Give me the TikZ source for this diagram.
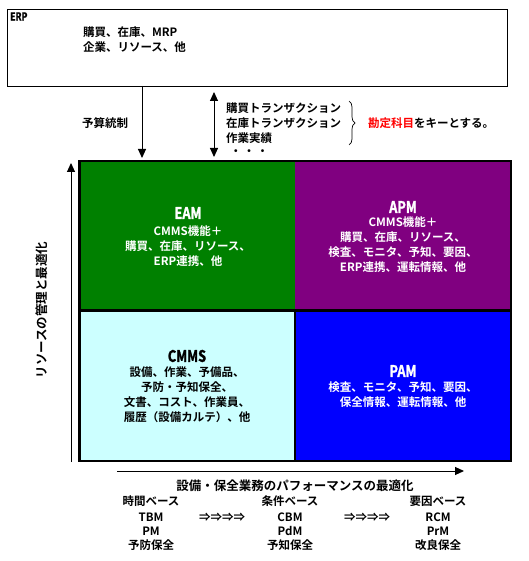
\documentclass[tikz,border=0pt]{standalone}
\usepackage{fontspec}
\setmainfont{Noto Sans CJK JP}[BoldFont={Noto Sans CJK JP Bold}]
\newfontfamily\narrowfont{Noto Sans CJK JP Bold}[FakeStretch=0.8, FakeBold=1.5]
\usetikzlibrary{arrows.meta,decorations.pathreplacing}
\definecolor{eamgreen}{HTML}{008000}
\definecolor{apmpurple}{HTML}{800080}
\definecolor{cmmscyan}{HTML}{CCFFFF}
\definecolor{pamblue}{HTML}{0000FF}
\definecolor{keyred}{HTML}{FF0000}
\tikzset{
  txt/.style={inner sep=0pt, outer sep=0pt, font=\fontsize{11.5}{15}\selectfont\bfseries},
  body/.style={txt, align=center},
  ttl/.style={inner sep=0pt, outer sep=0pt, font=\fontsize{16}{18}\selectfont\narrowfont},
  cell/.style={draw=none, inner sep=0pt, outer sep=0pt, anchor=north west},
  arr/.style={line width=1pt, -{Triangle[length=9pt,width=8pt]}},
  dblarr/.style={line width=1pt, {Triangle[length=9pt,width=8pt]}-{Triangle[length=9pt,width=8pt]}}
}
\begin{document}
\begin{tikzpicture}[x=1pt,y=-1pt]
\useasboundingbox[fill=white] (0,0) rectangle (528,561);

% ERP box
\node[draw, line width=1pt, inner sep=0pt, anchor=north west, minimum width=500pt, minimum height=77pt] (erp) at (7,9) {};
\node[inner sep=0pt, anchor=west, font=\fontsize{11}{12}\selectfont\narrowfont] (erplbl) at (10,16.5) {ERP};
\node[txt, anchor=west, align=left] (erptxt) at (83,40) {購買、在庫、MRP\\企業、リソース、他};

% top connectors
\coordinate (d1s) at (142,86);
\coordinate (d1e) at (142,158);
\draw[arr] (d1s) -- (d1e);
\node[txt] (budget) at (105,123) {予算統制};
\coordinate (d2s) at (214,92);
\coordinate (d2e) at (214,157);
\draw[dblarr] (d2s) -- (d2e);
\node[txt, anchor=west] (t1) at (226,108) {購買トランザクション};
\node[txt, anchor=west] (t2) at (226,123) {在庫トランザクション};
\node[txt, anchor=west] (t3) at (226,138) {作業実績};
\node[txt, anchor=west] (t4) at (230,153) {・\hspace{2pt}・\hspace{2pt}・};
\coordinate (bt) at (349,101);
\coordinate (bb) at (349,145);
\draw[line width=0.7pt, decorate, decoration={brace, amplitude=6pt}] (bt) -- (bb);
\node[txt, anchor=west] (key) at (368,123) {\textcolor{keyred}{勘定科目}をキーとする。};

% grid cells
\node[cell, fill=eamgreen, minimum width=215.5pt, minimum height=149.5pt] (eam) at (79.5,161) {};
\node[cell, fill=apmpurple, minimum width=216pt, minimum height=149.5pt] (apm) at (295,161) {};
\node[cell, fill=cmmscyan, minimum width=215.5pt, minimum height=150.5pt] (cmms) at (79.5,310.5) {};
\node[cell, fill=pamblue, minimum width=216pt, minimum height=150.5pt] (pam) at (295,310.5) {};
\draw[line width=2.5pt] (eam.north west) rectangle (pam.south east);
\draw[line width=3pt] (eam.south west) -- (apm.south east);
\draw[line width=2pt] (cmms.north east) -- (cmms.south east);

% cell texts
\node[ttl, text=white] (eamt) at (188,213) {EAM};
\node[body, text=white] (eamb) at (188,246) {CMMS機能＋\\購買、在庫、リソース、\\ERP連携、他};
\node[ttl, text=white] (apmt) at (403,207) {APM};
\node[body, text=white] (apmb) at (403,244.5) {CMMS機能＋\\購買、在庫、リソース、\\検査、モニタ、予知、要因、\\ERP連携、運転情報、他};
\node[ttl, text=black] (cmmst) at (187,356) {CMMS};
\node[body, text=black] (cmmsb) at (187,394.5) {設備、作業、予備品、\\予防・予知保全、\\文書、コスト、作業員、\\履歴（設備カルテ）、他};
\node[ttl, text=white] (pamt) at (403,371) {PAM};
\node[body, text=white] (pamb) at (403,395) {検査、モニタ、予知、要因、\\保全情報、運転情報、他};

% vertical axis
\coordinate (vb) at (71,462);
\coordinate (vt) at (71,163);
\draw[arr] (vb) -- (vt);
\node[txt, rotate=90, font=\fontsize{12.5}{14}\selectfont\bfseries] (vlbl) at (42,310) {リソースの管理と最適化};

% horizontal axis
\coordinate (hl) at (117,471);
\coordinate (hr) at (464,471);
\draw[arr] (hl) -- (hr);
\node[txt, font=\fontsize{12.5}{14}\selectfont\bfseries] (hlbl) at (295,486) {設備・保全業務のパフォーマンスの最適化};

% bottom columns
\node[txt] (c1a) at (151,501) {時間ベース};
\node[txt] (c1b) at (151,517) {TBM};
\node[txt] (c1c) at (151,531) {PM};
\node[txt] (c1d) at (151,545) {予防保全};
\node[txt] (ar1) at (222,517) {⇒⇒⇒⇒};
\node[txt] (c2a) at (290,501) {条件ベース};
\node[txt] (c2b) at (290,517) {CBM};
\node[txt] (c2c) at (290,531) {PdM};
\node[txt] (c2d) at (290,545) {予知保全};
\node[txt] (ar2) at (367,517) {⇒⇒⇒⇒};
\node[txt] (c3a) at (438,501) {要因ベース};
\node[txt] (c3b) at (438,517) {RCM};
\node[txt] (c3c) at (438,531) {PrM};
\node[txt] (c3d) at (438,545) {改良保全};
\end{tikzpicture}
\end{document}
